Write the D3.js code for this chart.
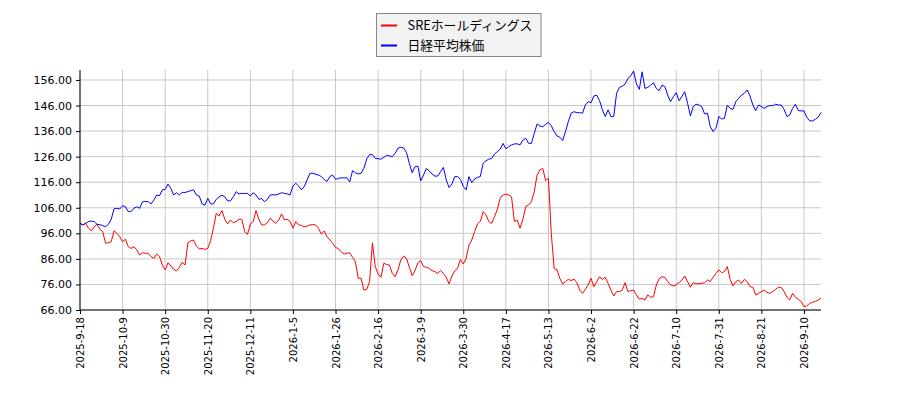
<!DOCTYPE html>
<html><head><meta charset="utf-8">
<script src="https://cdn.jsdelivr.net/npm/d3@7"></script>
<style>body{margin:0;background:#fff}svg{display:block}</style>
</head><body><svg id="c" width="900" height="400"></svg>
<script>
const seriesNames = ["SREホールディングス", "日経平均株価"];
const seriesColors = ["#ff0000", "#0000ff"];
const tickLabels = ["2025-9-18","2025-10-9","2025-10-30","2025-11-20","2025-12-11","2026-1-5","2026-1-26","2026-2-16","2026-3-9","2026-3-30","2026-4-17","2026-5-13","2026-6-2","2026-6-22","2026-7-10","2026-7-31","2026-8-21","2026-9-10"];
const yTicks = [66,76,86,96,106,116,126,136,146,156];
const sre = [99.9,99.3,99.9,98.0,97.0,98.6,99.5,97.6,96.7,92.1,92.3,92.7,97.0,96.0,94.7,92.7,93.7,90.8,90.1,90.8,89.5,87.5,88.4,88.2,88.2,86.9,86.2,87.9,86.9,83.6,
81.7,84.5,83.2,81.9,81.3,82.7,84.7,83.6,92.3,93.0,93.4,91.0,89.9,90.1,89.7,90.1,93.1,98.0,103.8,102.8,104.9,101.5,99.7,101.2,100.2,100.6,101.5,101.5,96.7,95.6,
99.7,100.6,104.9,101.5,99.3,99.3,100.2,101.9,100.8,99.9,101.2,103.6,101.2,101.5,100.6,98.0,100.6,99.3,99.1,98.6,98.8,99.3,99.4,99.3,98.0,95.7,96.9,94.7,93.4,92.1,
90.5,90.0,88.8,87.9,88.2,88.4,86.6,84.9,78.4,78.4,73.8,74.1,77.1,92.3,83.0,80.1,78.8,84.3,83.8,83.6,80.3,79.0,81.7,85.6,87.1,86.2,82.7,79.4,81.4,84.5,
85.3,83.0,82.7,82.3,81.4,81.0,80.3,81.4,80.3,78.8,76.2,79.3,81.3,82.3,85.8,84.0,86.2,91.4,93.4,96.7,99.7,100.6,104.5,103.2,100.6,99.9,102.5,105.4,109.7,111.0,
111.3,111.0,110.3,100.6,101.2,98.0,101.5,106.4,107.1,108.4,112.3,118.8,120.8,121.4,116.6,117.5,96.0,82.3,81.7,78.4,76.2,77.1,78.0,77.5,78.1,76.7,73.8,72.5,74.1,75.8,
78.4,75.1,77.1,79.0,78.0,78.8,76.4,73.8,71.5,73.2,73.2,73.8,76.7,73.2,73.6,73.8,71.9,70.2,70.6,69.9,71.9,71.0,71.2,75.8,78.3,79.0,78.8,77.1,75.8,75.4,
75.8,76.7,77.7,79.3,77.1,74.9,76.7,76.2,76.4,76.4,76.7,77.7,77.1,78.8,80.3,81.7,80.6,81.0,83.0,78.0,75.4,77.1,77.7,76.4,78.0,77.1,75.1,74.9,71.9,72.5,
73.2,73.8,72.9,72.5,73.2,74.1,74.9,74.8,73.2,71.0,69.9,72.5,71.0,70.2,69.3,67.3,67.6,68.6,69.0,69.4,69.9,70.6];
const nikkei = [99.9,99.3,99.9,100.6,100.8,100.6,99.5,99.4,99.0,98.6,99.5,101.5,105.6,105.8,105.5,106.8,106.4,104.5,104.5,105.8,106.4,105.8,108.3,108.5,108.4,107.5,109.0,111.0,110.7,113.0,
113.2,115.3,113.6,111.0,111.9,111.0,112.0,112.0,112.3,112.7,113.0,111.0,110.6,107.5,107.0,109.7,107.5,107.5,109.3,110.3,110.9,110.3,108.7,108.7,110.3,112.3,111.4,111.6,111.6,111.6,
110.6,111.9,111.0,109.3,109.6,108.4,109.3,111.0,111.1,111.0,111.4,111.9,111.6,111.4,111.0,114.5,115.6,114.5,113.0,114.3,116.9,119.5,119.5,119.1,118.8,118.2,117.1,116.3,118.2,118.8,
117.1,117.5,117.7,117.7,117.7,116.1,120.5,119.7,119.2,119.5,121.4,125.1,126.8,126.8,125.3,125.2,125.0,125.7,126.5,126.3,126.0,127.3,129.3,129.7,129.4,127.6,123.4,119.7,122.1,122.3,
116.5,118.8,121.4,120.4,119.2,118.4,118.4,120.1,121.8,116.9,113.9,115.3,118.2,118.2,117.1,114.3,113.0,118.2,115.8,117.3,117.9,118.2,123.4,124.4,125.0,125.3,127.0,128.0,128.9,131.2,
129.1,129.9,130.6,131.0,131.0,130.6,132.5,133.2,131.2,131.2,135.1,138.8,138.0,137.7,138.6,139.4,138.1,135.8,134.1,133.6,132.3,135.8,139.7,143.0,143.6,143.2,143.2,143.0,146.2,147.5,
147.1,149.7,150.1,147.9,144.3,141.7,144.3,141.7,141.7,150.8,153.1,153.6,154.4,156.6,157.6,159.5,154.4,152.3,159.2,152.7,153.1,154.0,154.9,152.7,151.8,154.0,153.4,150.1,147.5,149.5,
151.0,147.9,149.5,151.4,146.9,141.9,145.6,146.5,146.2,145.6,142.7,143.0,137.7,135.8,137.1,141.7,140.7,141.0,146.2,144.9,144.5,147.5,148.8,150.1,150.8,152.1,149.7,146.2,144.0,146.2,
145.6,144.9,145.6,146.0,145.9,146.5,146.2,146.2,144.5,141.7,142.3,144.9,146.5,144.0,143.9,143.9,141.4,140.0,140.0,140.6,141.4,143.3];

const svg = d3.select("#c");
const W = 900, H = 400;
const m = {left: 80, right: 79, top: 70, bottom: 90};
const x = d3.scaleLinear().domain([0, sre.length - 1]).range([m.left, W - m.right]);
const y = d3.scaleLinear().domain([66, 159.9]).range([H - m.bottom, m.top]);
const tickIdx = tickLabels.map((d, i) => i * 15);

// grid
const g = svg.append("g");
g.selectAll("line.h").data(yTicks).join("line")
  .attr("x1", m.left).attr("x2", W - m.right)
  .attr("y1", d => y(d)).attr("y2", d => y(d))
  .attr("stroke", "#c8c8c8").attr("stroke-width", 1);
g.selectAll("line.v").data(tickIdx).join("line")
  .attr("x1", d => x(d)).attr("x2", d => x(d))
  .attr("y1", m.top).attr("y2", H - m.bottom)
  .attr("stroke", "#c8c8c8").attr("stroke-width", 1);

// lines
const line = d3.line().x((d, i) => x(i)).y(d => y(d));
[sre, nikkei].forEach((s, k) => {
  svg.append("path").datum(s).attr("d", line)
    .attr("fill", "none").attr("stroke", seriesColors[k]).attr("stroke-width", 1);
});

// axes
const yAxis = d3.axisLeft(y).tickValues(yTicks).tickFormat(d => d.toFixed(2)).tickSize(4).tickPadding(4);
const ya = svg.append("g").attr("transform", `translate(${m.left},0)`).call(yAxis);
ya.selectAll("text").attr("font-family", "DejaVu Sans").attr("font-size", 11).attr("fill", "#000");
ya.selectAll("line").attr("stroke", "#000");
ya.select(".domain").attr("stroke", "#000").attr("d", `M0,${m.top}V${H - m.bottom}`);

const xAxis = d3.axisBottom(x).tickValues(tickIdx).tickFormat((d, i) => tickLabels[i]).tickSize(4).tickPadding(3);
const xa = svg.append("g").attr("transform", `translate(0,${H - m.bottom})`).call(xAxis);
xa.selectAll("line").attr("stroke", "#000");
xa.select(".domain").attr("stroke", "#000").attr("d", `M${m.left},0H${W - m.right}`);
xa.selectAll("text")
  .attr("font-family", "DejaVu Sans").attr("font-size", 10).attr("fill", "#000")
  .attr("text-anchor", "end").attr("dy", "0.35em")
  .attr("transform", "translate(0,7) rotate(-90)")
  .attr("x", 0).attr("y", 0);

// legend
const lg = svg.append("g");
lg.append("rect").attr("x", 376.5).attr("y", 13.5).attr("width", 164.5).attr("height", 43)
  .attr("fill", "#f2f2f2").attr("stroke", "#888").attr("stroke-width", 1);
seriesNames.forEach((n, k) => {
  const yy = 25.5 + k * 20;
  lg.append("line").attr("x1", 381).attr("x2", 397).attr("y1", yy).attr("y2", yy)
    .attr("stroke", seriesColors[k]).attr("stroke-width", 2);
  lg.append("text").attr("x", 407.5).attr("y", yy).attr("dy", "0.36em")
    .attr("font-family", "Noto Sans CJK JP").attr("font-size", 12.8).attr("fill", "#000").text(n);
});
</script></body></html>
